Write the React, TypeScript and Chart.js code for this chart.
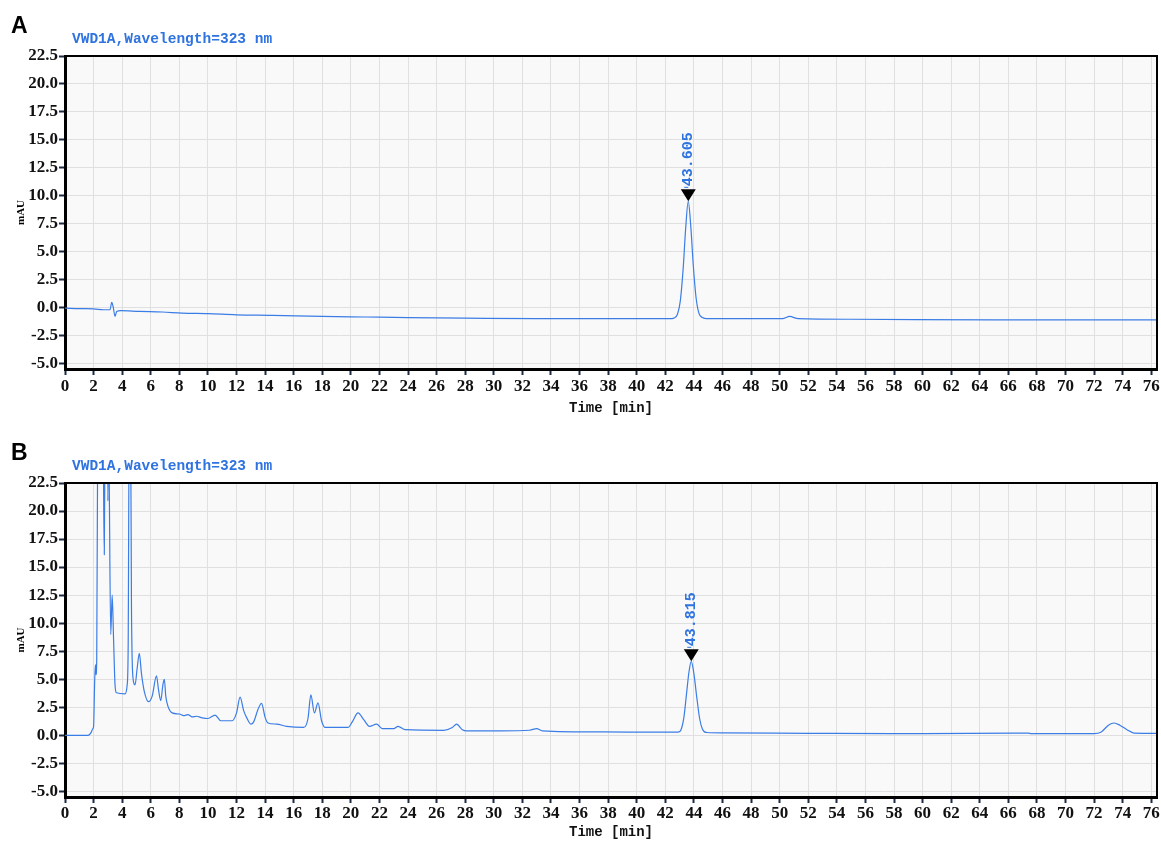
import React, { useEffect, useRef } from "react";
import { Chart, registerables } from "chart.js";

Chart.register(...registerables);

// ---------- data ----------
const X_TICKS = [0, 2, 4, 6, 8, 10, 12, 14, 16, 18, 20, 22, 24, 26, 28, 30, 32, 34, 36, 38, 40, 42, 44, 46, 48, 50, 52, 54, 56, 58, 60, 62, 64, 66, 68, 70, 72, 74, 76];
const Y_TICKS = [-5.0, -2.5, 0.0, 2.5, 5.0, 7.5, 10.0, 12.5, 15.0, 17.5, 20.0, 22.5];

const TITLE_TEXT = "VWD1A,Wavelength=323 nm";
const X_LABEL = "Time [min]";
const Y_LABEL = "mAU";

// Panel A
const TIME_A = [0, 1.0, 2.0, 2.7, 3.15, 3.27, 3.38, 3.5, 3.62, 3.9, 5.2, 6.8, 8.2, 10, 12, 14.5, 18, 21, 24, 28, 33, 38,
  42.3, 42.6, 42.85, 43.05, 43.25, 43.42, 43.605, 43.78, 43.95, 44.15, 44.35, 44.6, 44.9,
  47, 50.2, 50.7, 51.3, 55, 65, 76.4];
const MAU_A = [-0.05, -0.1, -0.12, -0.2, -0.2, 0.47, 0.0, -0.8, -0.35, -0.28, -0.35, -0.4, -0.5, -0.55, -0.65, -0.7, -0.8, -0.85, -0.9, -0.95, -1.0, -1.0,
  -1.0, -0.95, -0.6, 0.6, 3.5, 7.0, 9.5, 7.3, 3.9, 0.9, -0.5, -0.9, -1.0,
  -1.0, -1.0, -0.8, -1.0, -1.05, -1.1, -1.1];
const PEAK_A_TIME = 43.605;
const PEAK_A_VALUE = 9.5;
const PEAK_A_LABEL = "43.605";

// Panel B
const TIME_B = [0, 1.6, 1.8, 1.95, 2.0, 2.08, 2.13, 2.17, 2.22, 2.3, 2.6, 2.7, 2.75, 2.8, 2.95, 3.0, 3.05, 3.1, 3.2, 3.3, 3.4, 3.5, 3.6,
  4.2, 4.35, 4.42, 4.5, 4.58, 4.65, 4.75, 4.9, 5.05, 5.2, 5.35, 5.55, 5.85, 6.1, 6.4, 6.55, 6.7, 6.85, 6.95, 7.05, 7.2, 7.5,
  8.0, 8.3, 8.6, 8.9, 9.2, 9.6, 10.0, 10.5, 10.9, 11.7, 12.0, 12.25, 12.5, 12.7, 13.0, 13.2, 13.5, 13.75, 14.0, 14.2, 14.8,
  15.5, 16.7, 17.0, 17.2, 17.45, 17.7, 17.95, 18.2, 19.8, 20.1, 20.5, 20.9, 21.3, 21.8, 22.2, 23.0, 23.3, 23.8, 26.5,
  27.1, 27.4, 27.8, 28.1, 30.5, 32.5, 33.0, 33.4, 37.7,
  42.9, 43.1, 43.3, 43.5, 43.65, 43.815, 44.0, 44.2, 44.4, 44.6, 44.9,
  46, 52, 58, 60, 66.5, 67.4, 67.6, 72.0, 72.5, 73.0, 73.4, 73.8, 74.3, 74.8, 76.4];
const MAU_B = [0.0, 0.0, 0.2, 0.6, 0.8, 5.0, 6.3, 5.4, 6.8, 30, 40, 22, 16.1, 28, 35, 20.9, 30, 22, 9.0, 12.5, 8.5, 4.5, 3.8,
  3.7, 4.5, 8.0, 30, 30, 11.5, 5.2, 4.5, 6.0, 7.3, 5.5, 3.9, 3.0, 3.5, 5.3, 4.0, 3.1, 4.5, 5.0, 3.5, 2.6, 2.0,
  1.9, 1.75, 1.85, 1.65, 1.7, 1.55, 1.5, 1.8, 1.3, 1.3, 2.0, 3.4, 2.2, 1.6, 1.0, 1.2, 2.3, 2.85, 1.6, 1.1, 1.0,
  0.8, 0.7, 1.5, 3.6, 2.0, 2.9, 1.3, 0.7, 0.7, 1.2, 2.0, 1.4, 0.8, 1.0, 0.6, 0.6, 0.8, 0.5, 0.45,
  0.7, 1.0, 0.5, 0.4, 0.4, 0.45, 0.6, 0.4, 0.3,
  0.28, 0.5, 1.6, 3.9, 5.6, 6.6, 5.5, 3.4, 1.5, 0.55, 0.25,
  0.22, 0.18, 0.15, 0.15, 0.2, 0.2, 0.15, 0.15, 0.3, 0.9, 1.1, 0.9, 0.5, 0.2, 0.18];
const PEAK_B_TIME = 43.815;
const PEAK_B_VALUE = 6.6;
const PEAK_B_LABEL = "43.815";

// ---------- style ----------
const LINE_COLOR = "#3b7de6";
const TITLE_COLOR = "#2f73e0";
const GRID_COLOR = "#e0e0e0";
const PLOT_BG = "#f9f9f9";
const TICK_COLOR = "#1c2a44";
const LABEL_FONT = "'Liberation Serif', 'DejaVu Serif', serif";
const MONO_FONT = "'Liberation Mono', 'DejaVu Sans Mono', monospace";

function panelPlugin(letter: string, peakT: number, peakV: number, peakLabel: string) {
  return {
    id: "panel" + letter,
    beforeDraw(chart: any) {
      const { ctx, chartArea } = chart;
      const { left, top, right, bottom } = chartArea;
      ctx.save();
      ctx.fillStyle = PLOT_BG;
      ctx.fillRect(left, top, right - left, bottom - top);
      ctx.restore();
    },
    afterDraw(chart: any) {
      const { ctx, chartArea } = chart;
      const { left, top, right, bottom } = chartArea;
      ctx.save();
      // frame (top / right)
      ctx.strokeStyle = "#000";
      ctx.lineWidth = 2;
      ctx.beginPath();
      ctx.moveTo(left, top);
      ctx.lineTo(right, top);
      ctx.lineTo(right, bottom);
      ctx.stroke();

      // panel letter
      ctx.fillStyle = "#000";
      ctx.font = "bold 23px 'Liberation Sans', Arial, sans-serif";
      ctx.textBaseline = "middle";
      ctx.textAlign = "left";
      ctx.fillText(letter, 11, 27);

      // title
      ctx.fillStyle = TITLE_COLOR;
      ctx.font = "bold 14.5px " + MONO_FONT;
      ctx.fillText(TITLE_TEXT, left + 7, 39);

      // y label
      ctx.save();
      ctx.translate(21, (top + bottom) / 2);
      ctx.rotate(-Math.PI / 2);
      ctx.textAlign = "center";
      ctx.fillStyle = "#000";
      ctx.font = "bold 11px " + LABEL_FONT;
      ctx.fillText(Y_LABEL, 0, 0);
      ctx.restore();

      // peak marker
      const xs = chart.scales.x;
      const ys = chart.scales.y;
      const px = xs.getPixelForValue(peakT);
      const py = ys.getPixelForValue(peakV);
      ctx.fillStyle = "#000";
      ctx.beginPath();
      ctx.moveTo(px - 7.5, py - 12);
      ctx.lineTo(px + 7.5, py - 12);
      ctx.lineTo(px, py);
      ctx.closePath();
      ctx.fill();
      ctx.strokeStyle = TITLE_COLOR;
      ctx.lineWidth = 1;
      ctx.beginPath();
      ctx.moveTo(px - 4, py - 14);
      ctx.lineTo(px, py - 14);
      ctx.stroke();
      ctx.save();
      ctx.translate(px, py - 15);
      ctx.rotate(-Math.PI / 2);
      ctx.textAlign = "left";
      ctx.textBaseline = "middle";
      ctx.fillStyle = TITLE_COLOR;
      ctx.font = "bold 15px " + MONO_FONT;
      ctx.fillText(peakLabel, 0, 0);
      ctx.restore();
      ctx.restore();
    },
  };
}

function makeConfig(times: number[], values: number[], letter: string, peakT: number, peakV: number, peakLabel: string,
  xAxisHeight: number, tickPad: number, titlePad: number): any {
  const tickFont = { family: LABEL_FONT, size: 17, weight: "bold" as const };
  return {
    type: "line",
    data: {
      datasets: [
        {
          data: times.map((t, i) => ({ x: t, y: values[i] })),
          borderColor: LINE_COLOR,
          borderWidth: 1.2,
          pointRadius: 0,
          fill: false,
          cubicInterpolationMode: "monotone",
        },
      ],
    },
    options: {
      animation: false,
      responsive: false,
      maintainAspectRatio: false,
      layout: { padding: { top: 56, right: 4, left: 0, bottom: 0 } },
      plugins: { legend: { display: false }, tooltip: { enabled: false }, title: { display: false } },
      scales: {
        x: {
          type: "linear",
          min: 0,
          max: 76.4,
          afterBuildTicks: (s: any) => {
            s.ticks = X_TICKS.map((v) => ({ value: v }));
          },
          afterFit: (s: any) => {
            s.height = xAxisHeight;
          },
          ticks: {
            autoSkip: false,
            maxRotation: 0,
            padding: tickPad,
            color: "#111",
            font: tickFont,
            callback: (v: any) => String(v),
          },
          grid: { color: GRID_COLOR, lineWidth: 1, tickColor: TICK_COLOR, tickLength: 6, tickWidth: 2 },
          border: { display: true, color: "#000", width: 3 },
          title: {
            display: true,
            text: X_LABEL,
            color: "#111",
            font: { family: MONO_FONT, size: 14, weight: "bold" },
            padding: { top: 0, bottom: titlePad },
          },
        },
        y: {
          type: "linear",
          min: -5.5,
          max: 22.5,
          afterBuildTicks: (s: any) => {
            s.ticks = Y_TICKS.map((v) => ({ value: v }));
          },
          afterFit: (s: any) => {
            s.width = 65;
          },
          ticks: {
            autoSkip: false,
            padding: 1,
            color: "#111",
            font: tickFont,
            callback: (v: any) => Number(v).toFixed(1),
          },
          grid: { color: GRID_COLOR, lineWidth: 1, tickColor: TICK_COLOR, tickLength: 6, tickWidth: 2 },
          border: { display: true, color: "#000", width: 3 },
        },
      },
    },
    plugins: [panelPlugin(letter, peakT, peakV, peakLabel)],
  };
}

function Panel(props: {
  top: number; height: number; times: number[]; values: number[]; letter: string; peakT: number; peakV: number;
  peakLabel: string; xAxisHeight: number; tickPad: number; titlePad: number;
}) {
  const ref = useRef<HTMLCanvasElement | null>(null);
  useEffect(() => {
    if (!ref.current) return;
    const chart = new Chart(
      ref.current,
      makeConfig(props.times, props.values, props.letter, props.peakT, props.peakV, props.peakLabel, props.xAxisHeight, props.tickPad, props.titlePad)
    );
    return () => chart.destroy();
  }, []);
  return (
    <canvas
      ref={ref}
      width={1161}
      height={props.height}
      style={{ position: "absolute", left: 0, top: props.top, width: 1161, height: props.height, display: "block" }}
    />
  );
}

export default function App() {
  return (
    <div style={{ position: "fixed", left: 0, top: 0, width: 1161, height: 843, overflow: "hidden", background: "#fff" }}>
      <Panel top={0} height={421} times={TIME_A} values={MAU_A} letter="A" peakT={PEAK_A_TIME} peakV={PEAK_A_VALUE}
        peakLabel={PEAK_A_LABEL} xAxisHeight={52} tickPad={1} titlePad={4} />
      <Panel top={427} height={416} times={TIME_B} values={MAU_B} letter="B" peakT={PEAK_B_TIME} peakV={PEAK_B_VALUE}
        peakLabel={PEAK_B_LABEL} xAxisHeight={46} tickPad={0} titlePad={2} />
    </div>
  );
}
